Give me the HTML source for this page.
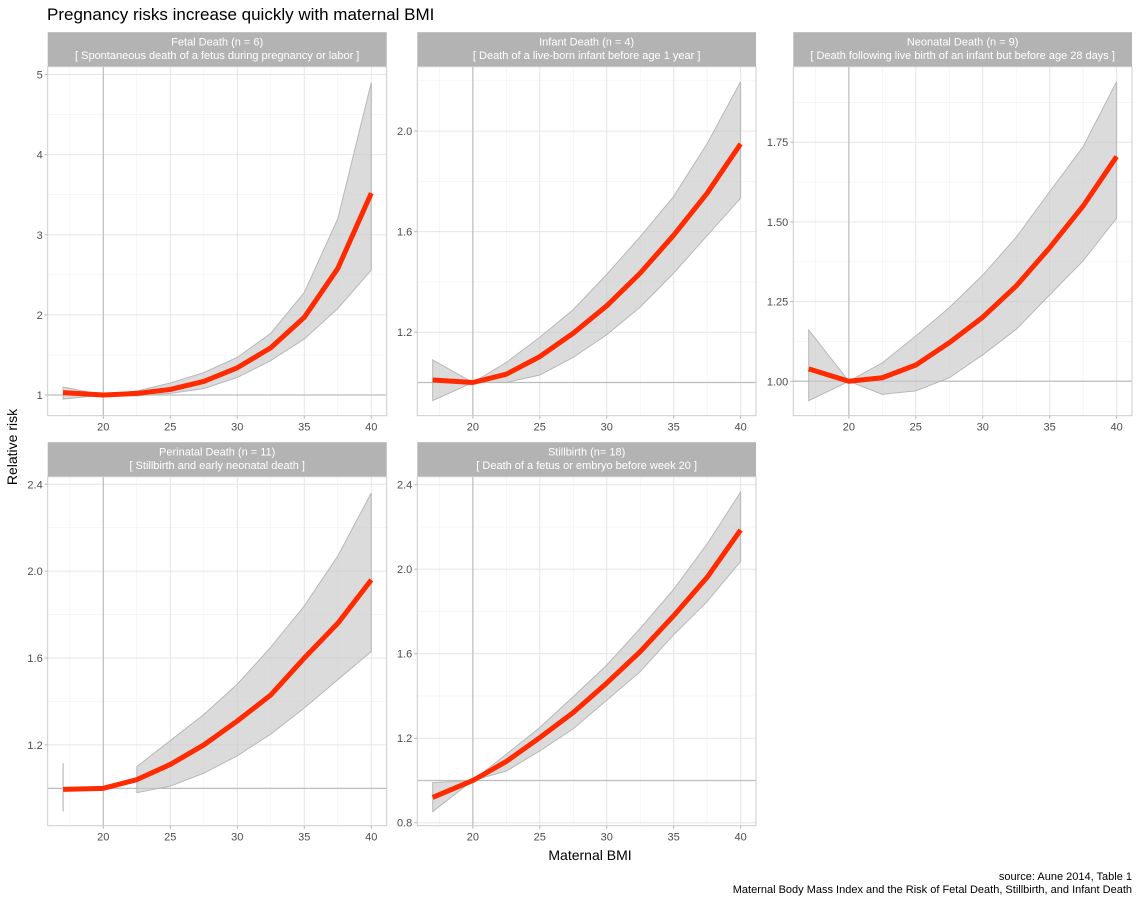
<!DOCTYPE html>
<html><head><meta charset="utf-8"><style>
body{margin:0;background:#fff;font-family:"Liberation Sans",Arial,sans-serif}
svg{display:block}
</style></head><body>
<svg id="chart" width="1140" height="900" xmlns="http://www.w3.org/2000/svg">
<text x="47" y="20" font-size="17" fill="#000">Pregnancy risks increase quickly with maternal BMI</text>
<text transform="translate(17,447) rotate(-90)" text-anchor="middle" font-size="14" fill="#000">Relative risk</text>
<text x="590" y="860" text-anchor="middle" font-size="14" fill="#000">Maternal BMI</text>
<text x="1132" y="880" text-anchor="end" font-size="11" fill="#000">source: Aune 2014, Table 1</text>
<text x="1132" y="893" text-anchor="end" font-size="11" fill="#000">Maternal Body Mass Index and the Risk of Fetal Death, Stillbirth, and Infant Death</text>
<g id="panels"></g>
</svg>
<script>
const bmi = [17, 20, 22.5, 25, 27.5, 30, 32.5, 35, 37.5, 40];
const xTicks = [20, 25, 30, 35, 40];
const xDomain = [15.85, 41.15];

const fetalRisk  = [1.03, 1.0, 1.02, 1.07, 1.17, 1.34, 1.59, 1.97, 2.58, 3.52];
const fetalLower = [0.95, 1.0, 0.99, 1.02, 1.08, 1.22, 1.43, 1.70, 2.08, 2.56];
const fetalUpper = [1.10, 1.0, 1.05, 1.15, 1.28, 1.47, 1.77, 2.28, 3.20, 4.90];
const fetalTicks = [1, 2, 3, 4, 5];

const infantRisk  = [1.01, 1.0, 1.033, 1.103, 1.196, 1.305, 1.435, 1.586, 1.753, 1.949];
const infantLower = [0.928, 1.0, 1.0, 1.03, 1.10, 1.19, 1.30, 1.435, 1.584, 1.733];
const infantUpper = [1.09, 1.0, 1.08, 1.18, 1.29, 1.43, 1.58, 1.74, 1.95, 2.196];
const infantTicks = [1.2, 1.6, 2.0];

const neoRisk  = [1.039, 1.0, 1.011, 1.051, 1.121, 1.201, 1.299, 1.419, 1.55, 1.705];
const neoLower = [0.939, 1.0, 0.959, 0.970, 1.011, 1.083, 1.163, 1.271, 1.378, 1.512];
const neoUpper = [1.161, 1.0, 1.058, 1.142, 1.231, 1.333, 1.452, 1.595, 1.736, 1.94];
const neoTicks = [1.00, 1.25, 1.50, 1.75];

const periRisk  = [0.995, 1.0, 1.04, 1.11, 1.20, 1.31, 1.43, 1.60, 1.76, 1.96];
const periLower = [null, null, 0.98, 1.01, 1.07, 1.15, 1.25, 1.37, 1.50, 1.63];
const periUpper = [null, null, 1.10, 1.22, 1.34, 1.48, 1.65, 1.84, 2.07, 2.36];
const periErr = [0.893, 1.116];
const periTicks = [1.2, 1.6, 2.0, 2.4];

const stillRisk  = [0.92, 1.0, 1.09, 1.203, 1.322, 1.461, 1.61, 1.78, 1.962, 2.186];
const stillLower = [0.853, 1.0, 1.045, 1.14, 1.245, 1.38, 1.515, 1.69, 1.847, 2.037];
const stillUpper = [0.99, 1.0, 1.124, 1.251, 1.397, 1.546, 1.72, 1.905, 2.12, 2.365];
const stillTicks = [0.8, 1.2, 1.6, 2.0, 2.4];

const NS = "http://www.w3.org/2000/svg";
function el(tag, attrs, parent){const e=document.createElementNS(NS,tag);for(const k in attrs)e.setAttribute(k,attrs[k]);parent.appendChild(e);return e;}

const panels = [
 {key:"fetal", t1:"Fetal Death (n = 6)", t2:"[ Spontaneous death of a fetus during pregnancy or labor ]", x0:47.7,x1:386.7,top:66.7,bot:415.7, yd:[0.742,5.098], risk:fetalRisk, lo:fetalLower, hi:fetalUpper, ticks:fetalTicks, fmt:v=>v.toFixed(0)},
 {key:"infant", t1:"Infant Death (n = 4)", t2:"[ Death of a live-born infant before age 1 year ]", x0:417.3,x1:756,top:66.7,bot:415.7, yd:[0.868,2.256], risk:infantRisk, lo:infantLower, hi:infantUpper, ticks:infantTicks, fmt:v=>v.toFixed(1)},
 {key:"neonatal", t1:"Neonatal Death (n = 9)", t2:"[ Death following live birth of an infant but before age 28 days ]", x0:793.3,x1:1132,top:66.7,bot:415.7, yd:[0.892,1.987], risk:neoRisk, lo:neoLower, hi:neoUpper, ticks:neoTicks, fmt:v=>v.toFixed(2)},
 {key:"perinatal", t1:"Perinatal Death (n = 11)", t2:"[ Stillbirth and early neonatal death ]", x0:47.7,x1:386.7,top:476.7,bot:825.7, yd:[0.828,2.435], risk:periRisk, lo:periLower, hi:periUpper, ticks:periTicks, fmt:v=>v.toFixed(1), err:periErr},
 {key:"stillbirth", t1:"Stillbirth (n= 18)", t2:"[ Death of a fetus or embryo before week 20 ]", x0:417.3,x1:756,top:476.7,bot:825.7, yd:[0.786,2.438], risk:stillRisk, lo:stillLower, hi:stillUpper, ticks:stillTicks, fmt:v=>v.toFixed(1)}
];

const root = document.getElementById("panels");
panels.forEach(p=>{
  const g = el("g",{},root);
  
  
  const sx = v => p.x0 + (v - xDomain[0])/(xDomain[1]-xDomain[0])*(p.x1-p.x0);
  const sy = v => p.bot - (v - p.yd[0])/(p.yd[1]-p.yd[0])*(p.bot-p.top);
  // strip
  const st = el("rect",{x:p.x0,y:p.top-34.5,width:p.x1-p.x0,height:34.5,fill:"#b3b3b3"},g);
  
  
  const s1 = el("text",{x:(p.x0+p.x1)/2,y:p.top-21,"text-anchor":"middle","font-size":"11",fill:"#fff"},g);
  s1.textContent = p.t1;
  
  
  const s2 = el("text",{x:(p.x0+p.x1)/2,y:p.top-7.5,"text-anchor":"middle","font-size":"11",fill:"#fff"},g);
  s2.textContent = p.t2;
  
  
  // minor grid
  for(let x=17.5;x<=40;x+=5){el("line",{x1:sx(x),x2:sx(x),y1:p.top,y2:p.bot,stroke:"#f0f0f0","stroke-width":0.6},g);}
  const step = p.ticks[1]-p.ticks[0];
  for(let k=-1;k<p.ticks.length;k++){const v=p.ticks[0]+step*(k+0.5);const y=sy(v);if(y>p.top&&y<p.bot)el("line",{x1:p.x0,x2:p.x1,y1:y,y2:y,stroke:"#f0f0f0","stroke-width":0.6},g);}
  // major grid
  xTicks.forEach(x=>el("line",{x1:sx(x),x2:sx(x),y1:p.top,y2:p.bot,stroke:"#e6e6e6","stroke-width":1},g));
  p.ticks.forEach(v=>{
    const y=sy(v);
    el("line",{x1:p.x0,x2:p.x1,y1:y,y2:y,stroke:"#e6e6e6","stroke-width":1},g);
    el("line",{x1:p.x0-3,x2:p.x0,y1:y,y2:y,stroke:"#b3b3b3","stroke-width":1},g);
    const t=el("text",{x:p.x0-5,y:y+4,"text-anchor":"end","font-size":"11",fill:"#4d4d4d"},g);
    t.textContent=p.fmt(v);
    
    
  });
  xTicks.forEach(x=>{
    el("line",{x1:sx(x),x2:sx(x),y1:p.bot,y2:p.bot+3,stroke:"#b3b3b3","stroke-width":1},g);
    const t=el("text",{x:sx(x),y:p.bot+15,"text-anchor":"middle","font-size":"11",fill:"#4d4d4d"},g);
    t.textContent=x;
    
    
  });
  // reference lines
  el("line",{x1:sx(20),x2:sx(20),y1:p.top,y2:p.bot,stroke:"#bdbdbd","stroke-width":1.2},g);
  el("line",{x1:p.x0,x2:p.x1,y1:sy(1),y2:sy(1),stroke:"#bdbdbd","stroke-width":1.2},g);
  // ribbon
  const idx = bmi.map((_,i)=>i).filter(i=>p.lo[i]!==null);
  let d = idx.map((i,k)=>(k?"L":"M")+sx(bmi[i])+","+sy(p.hi[i])).join("");
  d += idx.slice().reverse().map(i=>"L"+sx(bmi[i])+","+sy(p.lo[i])).join("")+"Z";
  const rb = el("path",{d:d,fill:"#c8c8c8","fill-opacity":0.65,stroke:"#b8b8b8","stroke-width":1},g);
  
  
  if(p.err){
    const e=el("line",{x1:sx(bmi[0]),x2:sx(bmi[0]),y1:sy(p.err[0]),y2:sy(p.err[1]),stroke:"#bdbdbd","stroke-width":1.2},g);
    
    
  }
  // line
  const ld = bmi.map((x,i)=>(i?"L":"M")+sx(x)+","+sy(p.risk[i])).join("");
  const ln = el("path",{d:ld,fill:"none",stroke:"#ff2a00","stroke-width":5,"stroke-linejoin":"round"},g);
  
  
  // border
  el("rect",{x:p.x0,y:p.top,width:p.x1-p.x0,height:p.bot-p.top,fill:"none",stroke:"#cccccc","stroke-width":1},g);
});
</script>
</body></html>
